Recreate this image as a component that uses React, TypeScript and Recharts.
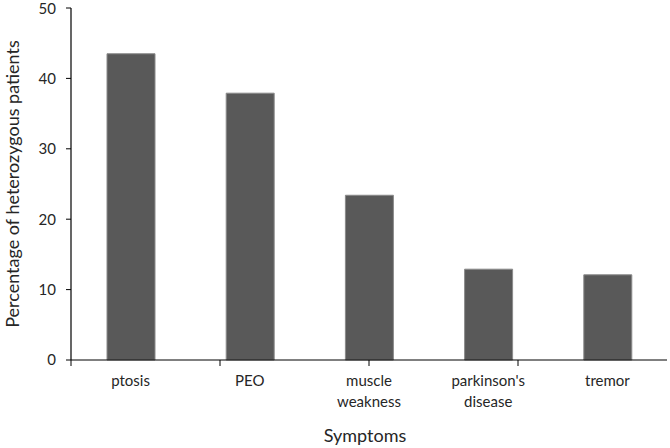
import { BarChart, Bar, XAxis, YAxis } from "recharts";

const symptoms = ["ptosis", "PEO", "muscle weakness", "parkinson's disease", "tremor"];
const percentages = [43.5, 37.9, 23.4, 12.9, 12.1];
const yTicks = [0, 10, 20, 30, 40, 50];
const boundaryTicks = [0, 1, 2, 3, 4, 5];

const data = symptoms.map((name, i) => ({ name, value: percentages[i] }));

const FONT = "Lato, 'Open Sans', sans-serif";
const TEXT = "#262626";

function CategoryTick(props: any) {
  const { x, y, payload } = props;
  const words = String(payload.value).split(" ");
  return (
    <text x={x} y={y} textAnchor="middle" fill={TEXT} fontSize={15} fontFamily={FONT}>
      {words.map((w: string, i: number) => (
        <tspan key={i} x={x} dy={i === 0 ? 17 : 21}>
          {w}
        </tspan>
      ))}
    </text>
  );
}

export default function App() {
  return (
    <div style={{ position: "absolute", left: 0, top: 0, width: 670, height: 448, background: "#fff" }}>
      <BarChart
        width={670}
        height={448}
        data={data}
        margin={{ top: 8, right: 3, left: 0, bottom: 0 }}
        barSize={48}
      >
        <XAxis
          xAxisId="a"
          type="number"
          domain={[0, 5]}
          ticks={boundaryTicks}
          height={1}
          tickSize={6}
          tickFormatter={() => ""}
          axisLine={{ stroke: "#000", strokeWidth: 1 }}
          tickLine={{ stroke: "#000", strokeWidth: 1 }}
        />
        <XAxis
          xAxisId="b"
          dataKey="name"
          height={87}
          axisLine={false}
          tickLine={false}
          interval={0}
          tick={<CategoryTick />}
          label={{
            value: "Symptoms",
            position: "insideBottom",
            offset: 6,
            dx: -4,
            fontSize: 18,
            fontFamily: FONT,
            fill: TEXT,
          }}
        />
        <YAxis
          domain={[0, 50]}
          ticks={yTicks}
          width={71}
          tickSize={5}
          tickMargin={10}
          stroke="#000"
          axisLine={{ stroke: "#000", strokeWidth: 1.2 }}
          tickLine={{ stroke: "#000", strokeWidth: 1 }}
          tick={{ fontSize: 15, fontFamily: FONT, fill: TEXT }}
          label={{
            value: "Percentage of heterozygous patients",
            angle: -90,
            position: "center",
            dx: -23,
            fontSize: 18,
            fontFamily: FONT,
            fill: TEXT,
          }}
        />
        <Bar
          xAxisId="b"
          dataKey="value"
          fill="#595959"
          stroke="#8a8a8a"
          strokeWidth={1}
          isAnimationActive={false}
        />
      </BarChart>
    </div>
  );
}
